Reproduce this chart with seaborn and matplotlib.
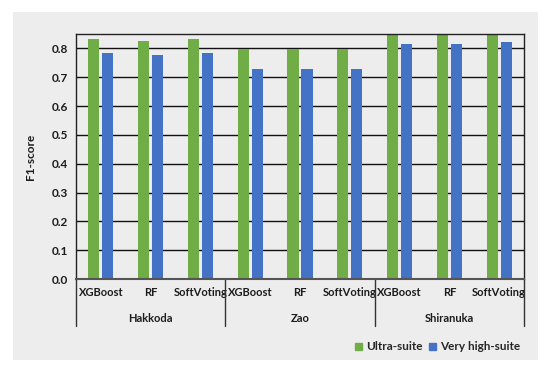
import pandas as pd
import seaborn as sns
import matplotlib.pyplot as plt
from matplotlib.patches import Rectangle

sites = ["Hakkoda", "Zao", "Shiranuka"]
models = ["XGBoost", "RF", "SoftVoting"]
ultra = [0.831, 0.827, 0.834, 0.799, 0.797, 0.799, 0.858, 0.856, 0.860]
very_high = [0.783, 0.778, 0.785, 0.727, 0.729, 0.730, 0.817, 0.817, 0.823]
series = ["Ultra-suite", "Very high-suite"]
colors = ["#70AD47", "#4472C4"]

cats = [s + "|" + m for s in sites for m in models]
df = pd.DataFrame({
    "cat": cats * 2,
    "score": ultra + very_high,
    "suite": [series[0]] * 9 + [series[1]] * 9,
})

sns.set_style("white")
plt.rcParams["font.family"] = ["Lato", "DejaVu Sans"]
plt.rcParams["font.weight"] = "bold"
txt = "#1c1c1c"

fig = plt.figure(figsize=(5.5, 3.71), dpi=100)
fig.patches.append(Rectangle((13 / 550, 1 - 360 / 371), 525 / 550, 348 / 371,
                             transform=fig.transFigure, facecolor="#EDEDED",
                             edgecolor="none", zorder=-10))
ax = fig.add_axes([76 / 550, 1 - 279 / 371, 448 / 550, 245 / 371])
ax.set_zorder(1)
ax.set_facecolor("none")

sns.barplot(data=df, x="cat", y="score", hue="suite", palette=colors,
            width=0.56, gap=0.2, ax=ax, legend=False, saturation=1, linewidth=0)

ax.set_ylim(0, 0.85)
ax.set_xlim(-0.5, 8.5)
ax.set_yticks([i / 10 for i in range(9)])
ax.set_yticklabels([f"{i / 10:.1f}" for i in range(9)], fontsize=8.5, fontweight="bold", color=txt)
ax.set_xticks(range(9))
ax.set_xticklabels(models * 3, fontsize=8, fontweight="bold", color=txt)
ax.tick_params(axis="both", length=0, pad=6)
ax.grid(axis="y", color="#111111", linewidth=1.0)
ax.set_axisbelow(True)
for sp in ax.spines.values():
    sp.set_visible(True)
    sp.set_color("#222222")
    sp.set_linewidth(1.0)
ax.spines["bottom"].set_color("#555555")
ax.spines["bottom"].set_linewidth(1.5)
ax.set_xlabel("")
ax.set_ylabel("F1-score", fontsize=8.5, fontweight="bold", color=txt, labelpad=11)

tr = ax.get_xaxis_transform()
for x in [-0.5, 2.5, 5.5, 8.5]:
    ax.plot([x, x], [0, -0.192], transform=tr, color="#333333", lw=1.0, clip_on=False)
for i, s in enumerate(sites):
    ax.text(3 * i + 1, -0.16, s, transform=tr, ha="center", va="center",
            fontsize=8, fontweight="bold", color=txt)

handles = [Rectangle((0, 0), 1, 1, color=c) for c in colors]
fig.legend(handles, series, loc="center right", bbox_to_anchor=(0.965, 1 - 347 / 371),
           ncol=2, frameon=False, fontsize=8.5, handlelength=0.6, handleheight=0.6,
           handletextpad=0.3, columnspacing=0.6, prop={"weight": "bold", "size": 8.5})

fig.savefig("out.png", dpi=100)
